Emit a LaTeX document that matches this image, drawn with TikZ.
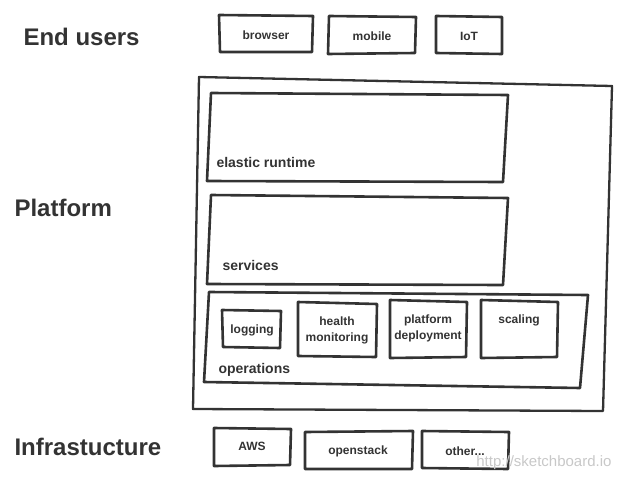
\documentclass[tikz,border=0pt]{standalone}
\usepackage{fontspec}
\setmainfont{Liberation Sans}
\definecolor{ink}{HTML}{333333}
\definecolor{mark}{HTML}{C8C8C8}
\tikzset{
  sketch/.style={draw=ink, line width=2.6pt, line join=round},
  layer/.style={text=ink, font=\bfseries\fontsize{24}{26}\selectfont, anchor=west},
  tag/.style={text=ink, font=\bfseries\fontsize{12}{16}\selectfont, align=center},
  area/.style={text=ink, font=\bfseries\fontsize{14}{16}\selectfont, anchor=west}
}
\begin{document}
\begin{tikzpicture}[x=1pt, y=-1pt]
  \useasboundingbox (0,0) rectangle (628,484);
  % layers
  \node (endusers) [layer] at (20,37) {End users};
  \node (platform) [layer] at (11,208) {Platform};
  \node (infra) [layer] at (11,447) {Infrastucture};
  % end users
  \draw[sketch] (219,15) -- (313,16) -- (312,52) -- (220,52) -- cycle;
  \node (browser) [tag] at (266,35) {browser};
  \draw[sketch] (329,16) -- (416,17) -- (415,53) -- (328,54) -- cycle;
  \node (mobile) [tag] at (372,36) {mobile};
  \draw[sketch] (436,16) -- (502,17) -- (502,54) -- (436,53) -- cycle;
  \node (iot) [tag] at (469,36) {IoT};
  % platform
  \draw[sketch, line width=2.3pt] (199,77) -- (612,86) -- (603,411) -- (193,409) -- cycle;
  \draw[sketch] (211,93) -- (508,95) -- (503,182) -- (207,181) -- cycle;
  \node (runtime) [area] at (213,162) {elastic runtime};
  \draw[sketch] (211,195) -- (508,198) -- (503,285) -- (207,284) -- cycle;
  \node (services) [area] at (219,265) {services};
  \draw[sketch] (209,292) -- (588,295) -- (580,388) -- (204,382) -- cycle;
  \node (operations) [area] at (215,370) {operations};
  \draw[sketch] (222,310) -- (281,311) -- (280,348) -- (223,347) -- cycle;
  \node (logging) [tag] at (252,330) {logging};
  \draw[sketch] (298,302) -- (377,304) -- (376,357) -- (298,356) -- cycle;
  \node (health) [tag] at (337,330) {health\\monitoring};
  \draw[sketch] (390,300) -- (467,302) -- (466,357) -- (390,358) -- cycle;
  \node (deploy) [tag] at (428,328) {platform\\deployment};
  \draw[sketch] (481,300) -- (558,302) -- (557,357) -- (481,358) -- cycle;
  \node (scaling) [tag] at (519,320) {scaling};
  % infrastructure
  \draw[sketch] (214,428) -- (291,429) -- (290,465) -- (214,466) -- cycle;
  \node (aws) [tag] at (252,446) {AWS};
  \draw[sketch] (305,432) -- (413,431) -- (412,469) -- (305,469) -- cycle;
  \node (openstack) [tag] at (358,451) {openstack};
  \draw[sketch] (422,431) -- (509,432) -- (508,469) -- (422,468) -- cycle;
  \node (other) [tag] at (465,451) {other...};
  \node (url) [text=mark, font=\fontsize{15}{17}\selectfont, anchor=east] at (615,463) {http://sketchboard.io};
\end{tikzpicture}
\end{document}
